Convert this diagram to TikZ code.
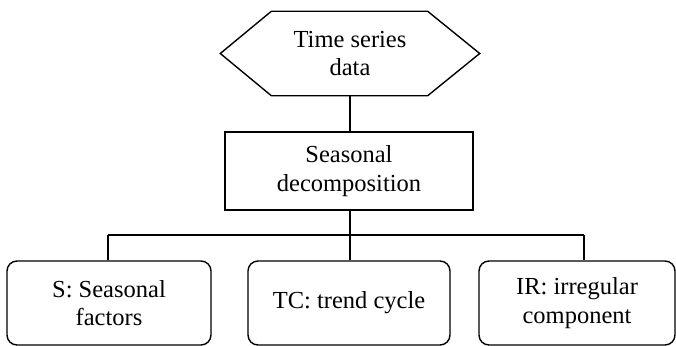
\documentclass[tikz,border=0pt]{standalone}
\usepackage{fontspec}
\setmainfont{Liberation Serif}
\begin{document}
\begin{tikzpicture}[x=1pt,y=-1pt,line width=1.4pt,
  lbl/.style={align=center,inner sep=0pt,font=\fontsize{24.5}{28.5}\selectfont},
  sqbox/.style={lbl,draw,minimum width=248pt,minimum height=78pt},
  rbox/.style={lbl,draw,rounded corners=10pt,minimum height=84pt}]
\useasboundingbox (0,0) rectangle (676,345);
\node[lbl,minimum width=258pt,minimum height=83pt] (hex) at (350,53.5) {Time series\\data};
\draw (hex.west) -- ([xshift=51pt]hex.north west) -- ([xshift=-52pt]hex.north east)
  -- (hex.east) -- ([xshift=-52pt]hex.south east) -- ([xshift=51pt]hex.south west) -- cycle;
\node[sqbox] (seas) at (349,171) {Seasonal\\decomposition};
\node[rbox,minimum width=204pt] (s) at (109,303) {S: Seasonal\\factors};
\node[rbox,minimum width=202pt] (tc) at (349,303) {TC: trend cycle};
\node[rbox,minimum width=196pt] (ir) at (577,303) {IR: irregular\\component};
\coordinate (jl) at (108,235);
\coordinate (jm) at (350,235);
\coordinate (jr) at (584,235);
\draw (hex.south -| jm) -- (seas.north -| jm);
\draw (seas.south -| jm) -- (tc.north -| jm);
\draw (jl) -- (jr);
\draw (jl) -- (jl |- s.north);
\draw (jr) -- (jr |- ir.north);
\end{tikzpicture}
\end{document}
